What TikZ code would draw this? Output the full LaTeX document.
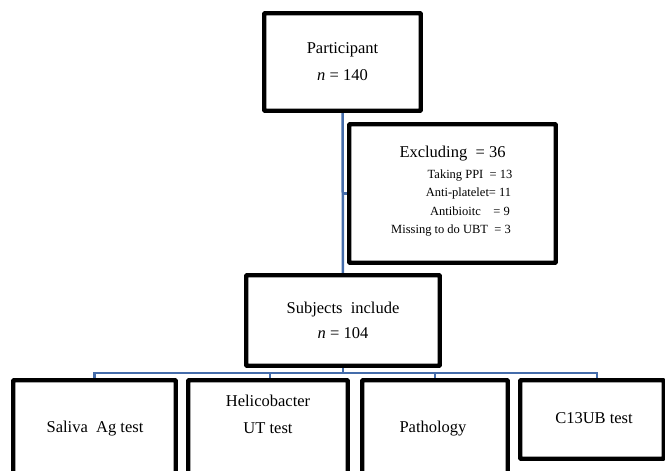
\documentclass[tikz,border=0pt]{standalone}
\usepackage{fontspec}
\setmainfont{Liberation Serif}
\begin{document}
\begin{tikzpicture}[x=1pt,y=-1pt,
  box/.style={draw=black,line width=2.8pt,rounded corners=1pt,inner sep=0pt,fill=white},
  conn/.style={draw={rgb,255:red,68;green,108;blue,170},line width=2.5pt},
  big/.style={font=\fontsize{16.5}{27}\selectfont,align=center,inner sep=0pt},
  small/.style={font=\fontsize{12.5}{14}\selectfont,inner sep=0pt}]
\useasboundingbox (0,0) rectangle (665,471);
\clip (0,0) rectangle (665,471);
% boxes
\node[box,big,minimum width=155pt,minimum height=96pt] (part) at (342.5,62) {Participant\\{\itshape n} = 140};
\node[box,minimum width=205pt,minimum height=137pt] (excl) at (452.5,193.5) {};
\node[box,big,minimum width=192pt,minimum height=89pt,font=\fontsize{16.5}{25}\selectfont] (subj) at (343,320.5) {Subjects\ \ include\\{\itshape n} = 104};
\node[box,minimum width=161pt,minimum height=110pt] (sal) at (94.5,436) {};
\node[box,minimum width=158pt,minimum height=110pt] (hel) at (268,436) {};
\node[box,minimum width=144pt,minimum height=110pt] (pat) at (435,436) {};
\node[box,minimum width=142pt,minimum height=77pt] (c13) at (592,419.5) {};
% connectors
\coordinate (bus) at (343,373);
\draw[conn] (part.south) -- (subj.north);
\draw[conn] (excl.west) -- (excl.west -| part.south);
\draw[conn] (subj.south) -- (bus);
\draw[conn] (sal.north) |- (bus);
\draw[conn] ([xshift=2pt]hel.north) |- (bus);
\draw[conn] (pat.north) |- (bus);
\draw[conn] ([xshift=5pt]c13.north) |- (bus);
% redraw box borders over connectors
\foreach \n in {part,excl,subj,sal,hel,pat,c13}{\draw[box,fill=none] (\n.north west) rectangle (\n.south east);}
% texts
\node[big] (t1) at (452.5,154) {Excluding\ \ = 36};
\node[small] (t2) at (470,176) {Taking PPI\ \ = 13};
\node[small] (t3) at (468.5,193) {Anti-platelet= 11};
\node[small] (t4) at (470,211) {Antibioitc\ \ \ \ = 9};
\node[small] (t5) at (451,231) {Missing to do UBT\ \ = 3};
\node[big] (t6) at (95,429) {Saliva\ \ Ag test};
\node[big] (t7) at (268,414) {Helicobacter\\UT test};
\node[big] (t8) at (433,429) {Pathology};
\node[big] (t9) at (594,418) {C13UB test};
\end{tikzpicture}
\end{document}
